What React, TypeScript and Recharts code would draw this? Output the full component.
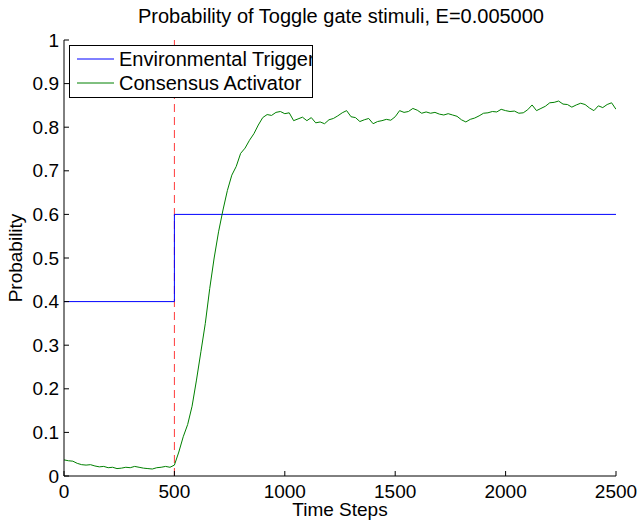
import React from 'react';
import {
  LineChart,
  Line,
  XAxis,
  YAxis,
  ReferenceLine,
  Legend,
} from 'recharts';

const title = 'Probability of Toggle gate stimuli, E=0.005000';

const consensusSteps = [
  0, 20, 40, 60, 80, 100, 120, 140, 160, 180, 200, 220, 240, 260, 280, 300, 320, 340, 360, 380, 400,
  420, 440, 460, 480, 500,
  520, 540, 560, 580, 600, 620, 640, 660, 680, 700, 720, 740, 760, 780, 800, 820, 840, 860, 880, 900,
  920, 940, 960, 980, 1000,
  1020, 1040, 1060, 1080, 1100, 1120, 1140, 1160, 1180, 1200, 1220, 1240, 1260, 1280, 1300, 1320,
  1340, 1360, 1380, 1400, 1420, 1440, 1460, 1480, 1500,
  1520, 1540, 1560, 1580, 1600, 1620, 1640, 1660, 1680, 1700, 1720, 1740, 1760, 1780, 1800, 1820,
  1840, 1860, 1880, 1900, 1920, 1940, 1960, 1980, 2000,
  2020, 2040, 2060, 2080, 2100, 2120, 2140, 2160, 2180, 2200, 2220, 2240, 2260, 2280, 2300, 2320,
  2340, 2360, 2380, 2400, 2420, 2440, 2460, 2480, 2500,
];

const consensusValues = [
  0.037, 0.035, 0.034, 0.029, 0.026, 0.025, 0.026, 0.023, 0.021, 0.022, 0.019, 0.02, 0.017, 0.018,
  0.02, 0.019, 0.022, 0.02, 0.018, 0.017, 0.016, 0.019, 0.02, 0.022, 0.02, 0.025,
  0.055, 0.09, 0.118, 0.16, 0.22, 0.285, 0.35, 0.43, 0.5, 0.56, 0.61, 0.655, 0.69, 0.71, 0.74, 0.752,
  0.77, 0.785, 0.805, 0.822, 0.829, 0.827, 0.834, 0.836, 0.831,
  0.833, 0.815, 0.819, 0.823, 0.815, 0.822, 0.81, 0.812, 0.808, 0.817, 0.82, 0.826, 0.833, 0.838,
  0.824, 0.822, 0.813, 0.817, 0.82, 0.808, 0.813, 0.815, 0.818, 0.816, 0.824,
  0.838, 0.834, 0.836, 0.843, 0.839, 0.832, 0.835, 0.832, 0.834, 0.83, 0.828, 0.831, 0.828, 0.825,
  0.817, 0.812, 0.818, 0.821, 0.826, 0.832, 0.833, 0.836, 0.835, 0.841, 0.838,
  0.836, 0.837, 0.832, 0.833, 0.84, 0.851, 0.838, 0.843, 0.848, 0.856, 0.857, 0.86, 0.853, 0.852,
  0.846, 0.851, 0.855, 0.852, 0.844, 0.838, 0.849, 0.845, 0.852, 0.856, 0.841,
];

const triggerSteps = [0, 500, 2500];
const triggerValues = [0.4, 0.6, 0.6];

const xTicks = [0, 500, 1000, 1500, 2000, 2500];
const yTicks = [0, 0.1, 0.2, 0.3, 0.4, 0.5, 0.6, 0.7, 0.8, 0.9, 1];

const consensusData = consensusSteps.map((t, i) => ({ t, p: consensusValues[i] }));
const triggerData = triggerSteps.map((t, i) => ({ t, p: triggerValues[i] }));

const font = '"Liberation Sans", Arial, Helvetica, sans-serif';
const TICK_LEN = 5;
const FS = 19;

function BottomTick({ x, y, payload }: any) {
  return (
    <g>
      <line x1={x} y1={y} x2={x} y2={y - TICK_LEN} stroke="#000" />
      <text x={x} y={y + 22} textAnchor="middle" fontSize={FS} fontFamily={font} fill="#000">
        {payload.value}
      </text>
    </g>
  );
}

function TopTick({ x, y }: any) {
  return <line x1={x} y1={y} x2={x} y2={y + TICK_LEN} stroke="#000" />;
}

function LeftTick({ x, y, payload }: any) {
  return (
    <g>
      <line x1={x} y1={y} x2={x + TICK_LEN} y2={y} stroke="#000" />
      <text x={x - 5} y={y} dy="0.35em" textAnchor="end" fontSize={FS} fontFamily={font} fill="#000">
        {payload.value}
      </text>
    </g>
  );
}

function RightTick({ x, y }: any) {
  return <line x1={x} y1={y} x2={x - TICK_LEN} y2={y} stroke="#000" />;
}

function LegendBox() {
  const items = [
    { name: 'Environmental Trigger', color: '#0000ff' },
    { name: 'Consensus Activator', color: '#008000' },
  ];
  return (
    <svg width={244} height={53} style={{ display: 'block', overflow: 'hidden' }}>
      <rect x={0.5} y={0.5} width={243} height={52} fill="#fff" stroke="#000" />
      {items.map((it, i) => (
        <g key={it.name}>
          <line x1={8} y1={14 + i * 24} x2={45} y2={14 + i * 24} stroke={it.color} />
          <text x={50} y={21 + i * 24} fontSize={20} fontFamily={font} fill="#000">
            {it.name}
          </text>
        </g>
      ))}
      <line x1={243.5} y1={0} x2={243.5} y2={53} stroke="#000" />
    </svg>
  );
}

export default function App() {
  return (
    <div style={{ position: 'absolute', left: 0, top: 0, background: '#fff' }}>
      <LineChart width={641} height={521} margin={{ top: 40, right: 25, bottom: 0, left: 0 }}>
        <XAxis
          xAxisId="bottom"
          dataKey="t"
          type="number"
          domain={[0, 2500]}
          ticks={xTicks}
          interval={0}
          height={45}
          tickSize={0}
          tickMargin={0}
          tickLine={false}
          axisLine={{ stroke: '#000' }}
          tick={<BottomTick />}
          allowDataOverflow
        />
        <XAxis
          xAxisId="top"
          orientation="top"
          dataKey="t"
          type="number"
          domain={[0, 2500]}
          ticks={xTicks}
          interval={0}
          height={0}
          tickSize={0}
          tickMargin={0}
          tickLine={false}
          axisLine={{ stroke: '#000' }}
          tick={<TopTick />}
          allowDataOverflow
        />
        <YAxis
          yAxisId="left"
          type="number"
          domain={[0, 1]}
          ticks={yTicks}
          interval={0}
          width={64}
          tickSize={0}
          tickMargin={0}
          tickLine={false}
          axisLine={{ stroke: '#000' }}
          tick={<LeftTick />}
          allowDataOverflow
        />
        <YAxis
          yAxisId="right"
          orientation="right"
          type="number"
          domain={[0, 1]}
          ticks={yTicks}
          interval={0}
          width={0}
          tickSize={0}
          tickMargin={0}
          tickLine={false}
          axisLine={{ stroke: '#000' }}
          tick={<RightTick />}
          allowDataOverflow
        />
        <ReferenceLine
          xAxisId="bottom"
          yAxisId="left"
          x={500}
          stroke="#ff3b3b"
          strokeDasharray="8 5"
          strokeWidth={1}
        />
        <Line
          xAxisId="bottom"
          yAxisId="left"
          data={triggerData}
          dataKey="p"
          name="Environmental Trigger"
          type="stepAfter"
          stroke="#0000ff"
          strokeWidth={1}
          dot={false}
          isAnimationActive={false}
        />
        <Line
          xAxisId="bottom"
          yAxisId="left"
          data={consensusData}
          dataKey="p"
          name="Consensus Activator"
          type="linear"
          stroke="#008000"
          strokeWidth={1}
          dot={false}
          isAnimationActive={false}
        />
        <Legend
          layout="vertical"
          align="center"
          verticalAlign="middle"
          content={<LegendBox />}
          wrapperStyle={{ position: 'absolute', left: 69, top: 45, width: 'auto' }}
        />
        <text x={341} y={23} textAnchor="middle" fontSize={20} fontFamily={font} fill="#000">
          {title}
        </text>
        <text x={340} y={516} textAnchor="middle" fontSize={FS} fontFamily={font} fill="#000">
          Time Steps
        </text>
        <text
          x={22}
          y={258}
          textAnchor="middle"
          fontSize={FS}
          fontFamily={font}
          fill="#000"
          transform="rotate(-90 22 258)"
        >
          Probability
        </text>
      </LineChart>
    </div>
  );
}
